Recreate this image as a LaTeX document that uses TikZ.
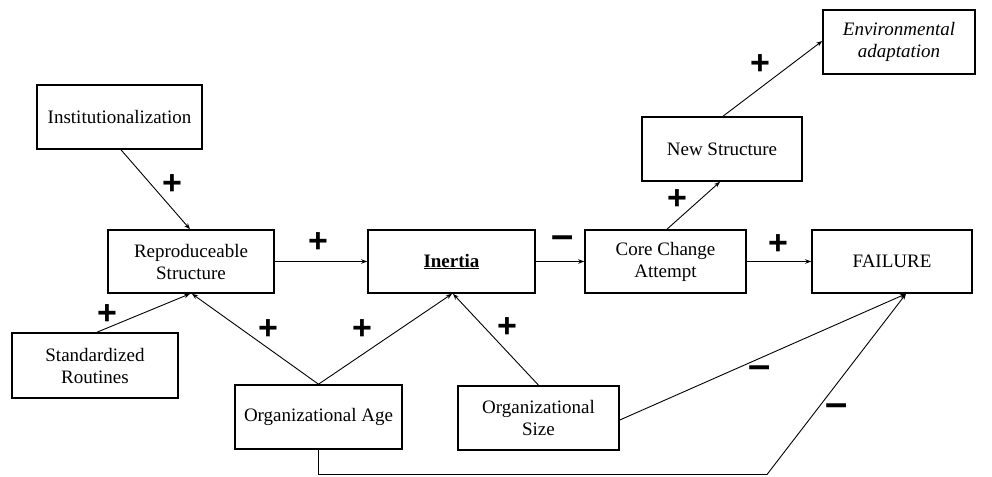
\documentclass[tikz,border=0pt]{standalone}
\usepackage{fontspec}
\setmainfont{Liberation Serif}
\newfontfamily\boxfont{Liberation Serif}
\newfontfamily\signfont{Liberation Sans}
\usetikzlibrary{arrows.meta}
\tikzset{
  box/.style={draw, line width=1.6pt, inner sep=0pt, align=center,
    font=\boxfont\fontsize{19}{22}\selectfont},
  conn/.style={line width=0.9pt, -{Stealth[length=6pt,width=4.5pt]}},
  sign/.style={font=\signfont\bfseries\fontsize{34}{34}\selectfont, inner sep=0pt},
  minus/.style={font=\signfont\bfseries\fontsize{40}{40}\selectfont, inner sep=0pt},
}
\begin{document}
\begin{tikzpicture}[x=1pt,y=-1pt]
\useasboundingbox (0,0) rectangle (992,476);
% boxes
\node[box, minimum width=165pt, minimum height=64pt] (inst) at (119.5,117) {Institutionalization};
\node[box, minimum width=166pt, minimum height=63pt] (repro) at (191,261.5) {Reproduceable\\Structure};
\node[box, minimum width=167pt, minimum height=63pt] (inertia) at (451.5,261.5) {\textbf{\underline{Inertia}}};
\node[box, minimum width=161pt, minimum height=63pt] (core) at (665.5,261.5) {Core Change\\Attempt};
\node[box, minimum width=160pt, minimum height=63pt] (fail) at (892,261.5) {FAILURE};
\node[box, minimum width=160pt, minimum height=64pt] (news) at (722,149) {New Structure};
\node[box, minimum width=152pt, minimum height=64pt] (env) at (899,42) {\itshape Environmental\\\itshape adaptation};
\node[box, minimum width=166pt, minimum height=65pt] (std) at (95,365.5) {Standardized\\Routines};
\node[box, minimum width=167pt, minimum height=64pt] (age) at (318.5,417) {Organizational Age};
\node[box, minimum width=161pt, minimum height=64pt] (size) at (538.5,418) {Organizational\\Size};
% connectors
\draw[conn] ([xshift=1.5pt]inst.south) -- ([xshift=-1pt]repro.north);
\draw[conn] (repro.east) -- (inertia.west);
\draw[conn] (inertia.east) -- (core.west);
\draw[conn] (core.east) -- (fail.west);
\draw[conn] ([xshift=1.5pt]core.north) -- ([xshift=-2pt]news.south);
\draw[conn] ([xshift=1pt]news.north) -- ([yshift=1pt]env.west);
\draw[conn] ([xshift=2pt]std.north) -- ([xshift=-1pt]repro.south);
\draw[conn] (age.north) -- ([xshift=1pt]repro.south);
\draw[conn] (age.north) -- ([xshift=0.5pt]inertia.south);
\draw[conn] (size.north) -- ([xshift=1.5pt]inertia.south);
\draw[conn] ([yshift=-2pt]size.east) -- ([xshift=14pt]fail.south);
\coordinate (bend) at (767,474.5);
\draw[conn] (age.south) |- (bend) -- ([xshift=14pt]fail.south);
% signs
\node[sign] (s1) at (172,185) {+};
\node[sign] (s2) at (318,243) {+};
\node[minus] (s3) at (563,242) {–};
\node[sign] (s4) at (778,245) {+};
\node[sign] (s5) at (677,200) {+};
\node[sign] (s6) at (760,65) {+};
\node[sign] (s7) at (107,315) {+};
\node[sign] (s8) at (268,330) {+};
\node[sign] (s9) at (362,330) {+};
\node[sign] (s10) at (507,328) {+};
\node[minus] (s11) at (760,372) {–};
\node[minus] (s12) at (837,410) {–};
\end{tikzpicture}
\end{document}
